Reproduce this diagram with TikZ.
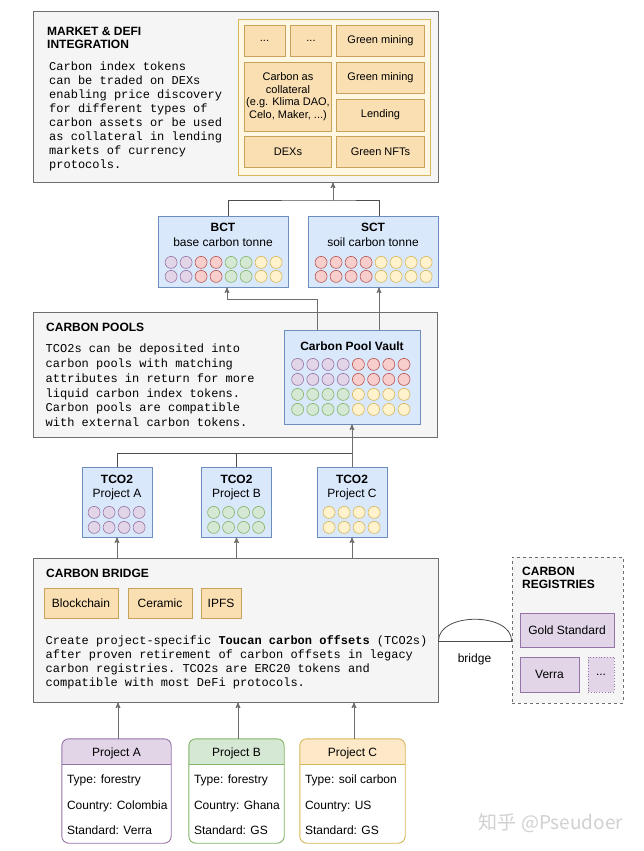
\documentclass[tikz,border=0pt]{standalone}
\usepackage{fontspec}
\setmainfont{Liberation Sans}
\setmonofont{Liberation Mono}
\newfontfamily\zhfont{Noto Sans CJK SC}
\usepackage{tikz}
\usetikzlibrary{arrows, calc, positioning}

\definecolor{grayfill}{HTML}{F5F5F5}
\definecolor{grayline}{HTML}{6E6E6E}
\definecolor{linkgray}{HTML}{4D4D4D}
\definecolor{bufill}{HTML}{DAE8FC}
\definecolor{buline}{HTML}{6C8EBF}
\definecolor{pufill}{HTML}{E1D5E7}
\definecolor{puline}{HTML}{9673A6}
\definecolor{grfill}{HTML}{D5E8D4}
\definecolor{grline}{HTML}{82B366}
\definecolor{yefill}{HTML}{FFF2CC}
\definecolor{yeline}{HTML}{D6B656}
\definecolor{rdfill}{HTML}{F8CECC}
\definecolor{rdline}{HTML}{B85450}
\definecolor{orfill}{HTML}{FADFB3}
\definecolor{orline}{HTML}{C8A15B}
\definecolor{panelfill}{HTML}{FFF7E2}
\definecolor{pcfill}{HTML}{FDE9C8}

\tikzset{
	layer/.style={draw=grayline, fill=grayfill, line width=0.9pt, inner sep=0pt},
	tokbox/.style={draw=buline, fill=bufill, line width=0.8pt, inner sep=0pt},
	tile/.style={draw=orline, fill=orfill, line width=0.8pt, inner sep=0pt, align=center,
		font=\fontsize{11}{12.5}\selectfont},
	btile/.style={tile, font=\fontsize{12}{14}\selectfont},
	regbox/.style={draw=puline, fill=pufill, line width=0.8pt, inner sep=0pt,
		font=\fontsize{12}{14}\selectfont},
	txt/.style={font=\fontsize{12}{14}\selectfont, inner sep=0pt},
	row/.style={txt, text height=9pt, text depth=2.5pt},
	ttl/.style={font=\bfseries\fontsize{12}{13}\selectfont, inner sep=0pt, align=left, anchor=north west},
	mono/.style={font=\ttfamily\fontsize{12}{14}\selectfont, inner sep=0pt, align=left, anchor=north west},
	tok/.style={draw=#1line, fill=#1fill, line width=0.6pt},
	arr/.style={draw=grayline, line width=1pt, -stealth'},
	link/.style={draw=linkgray, line width=1pt},
}

\begin{document}
\begin{tikzpicture}[x=1pt, y=-1pt]
	\fill[white] (0,0) rectangle (644,851);
	\useasboundingbox (0,0) rectangle (644,851);

	% market & defi integration
	\node[layer, minimum width=405, minimum height=171] (market) at (235.5,96.5) {};
	\node[ttl] (market-ttl) at (47,27) {MARKET \& DEFI\\INTEGRATION};
	\node[mono] (market-txt) at (49,62) {Carbon index tokens\\can be traded on DEXs\\enabling price discovery\\for different types of\\carbon assets or be used\\as collateral in lending\\markets of currency\\protocols.};
	\node[draw=yeline, fill=panelfill, line width=0.8pt, inner sep=0pt,
		minimum width=192, minimum height=156] (apps) at (334,97) {};
	\node[tile, minimum width=41, minimum height=31] (dots-a) at (264.5,40.5) {...};
	\node[tile, minimum width=41, minimum height=31] (dots-b) at (311,40.5) {...};
	\node[tile, minimum width=88, minimum height=31] (mining-a) at (380.5,40.5) {Green mining};
	\node[tile, minimum width=87, minimum height=69] (collateral) at (288,96.5) {Carbon as\\collateral\\(e.g. Klima DAO,\\Celo, Maker, ...)};
	\node[tile, minimum width=88, minimum height=31] (mining-b) at (380.5,77.5) {Green mining};
	\node[tile, minimum width=88, minimum height=32] (lending) at (380.5,115) {Lending};
	\node[tile, minimum width=87, minimum height=31] (dexs) at (288,151.5) {DEXs};
	\node[tile, minimum width=88, minimum height=31] (nfts) at (380.5,151.5) {Green NFTs};

	% index tokens
	\node[tokbox, minimum width=130, minimum height=71] (bct) at (223,251.5) {};
	\node[txt, align=center, anchor=north] (bct-lbl) at ($(bct.north)+(0,7)$) {\textbf{BCT}\\[1pt]base carbon tonne};
	\node[tokbox, minimum width=130, minimum height=71] (sct) at (373,251.5) {};
	\node[txt, align=center, anchor=north] (sct-lbl) at ($(sct.north)+(0,7)$) {\textbf{SCT}\\[1pt]soil carbon tonne};
	\foreach \c [count=\i from 0] in {pu,pu,rd,rd,gr,gr,ye,ye}
		\foreach \r in {25,11}
			\draw[tok=\c] ($(bct.south west)+(13.5+15*\i,-\r)$) circle[radius=6pt];
	\foreach \c [count=\i from 0] in {rd,rd,rd,rd,ye,ye,ye,ye}
		\foreach \r in {25,11}
			\draw[tok=\c] ($(sct.south west)+(13.5+15*\i,-\r)$) circle[radius=6pt];

	% carbon pools
	\node[layer, minimum width=404, minimum height=125] (pools) at (235,374.5) {};
	\node[ttl] (pools-ttl) at (46,322.5) {CARBON POOLS};
	\node[mono, font=\ttfamily\fontsize{12}{14.7}\selectfont] (pools-txt) at (45.5,344) {TCO2s can be deposited into\\carbon pools with matching\\attributes in return for more\\liquid carbon index tokens.\\Carbon pools are compatible\\with external carbon tokens.};
	\node[tokbox, minimum width=136, minimum height=94] (vault) at (352,377) {};
	\node[txt, font=\bfseries\fontsize{12}{14}\selectfont, anchor=north] (vault-lbl) at ($(vault.north)+(0,12)$) {Carbon Pool Vault};
	\foreach \c [count=\i from 0] in {pu,pu,pu,pu,rd,rd,rd,rd}
		\foreach \r in {60,45}
			\draw[tok=\c] ($(vault.south west)+(14+15.2*\i,-\r)$) circle[radius=6pt];
	\foreach \c [count=\i from 0] in {gr,gr,gr,gr,ye,ye,ye,ye}
		\foreach \r in {30,15}
			\draw[tok=\c] ($(vault.south west)+(14+15.2*\i,-\r)$) circle[radius=6pt];

	% project tokens
	\foreach \t/\x/\n/\c in {ta/117/A/pu, tb/236.5/B/gr, tc/352/C/ye}{
		\node[tokbox, minimum width=70, minimum height=70] (\t) at (\x,502) {};
		\node[txt, align=center, anchor=north] (\t-lbl) at ($(\t.north)+(0,8.5)$) {\textbf{TCO2}\\Project \n};
		\foreach \i in {0,...,3}
			\foreach \r in {25,10}
				\draw[tok=\c] ($(\t.south west)+(12.5+15*\i,-\r)$) circle[radius=6pt];
	}

	% carbon bridge
	\node[layer, minimum width=405, minimum height=144] (bridge) at (235.5,630) {};
	\node[ttl] (bridge-ttl) at (46,568.7) {CARBON BRIDGE};
	\node[btile, minimum width=74, minimum height=30] (chain) at (81,603) {Blockchain};
	\node[btile, minimum width=64, minimum height=30] (ceramic) at (160,603) {Ceramic};
	\node[btile, minimum width=40, minimum height=30] (ipfs) at (221,603) {IPFS};
	\node[mono] (bridge-txt) at (45.5,635) {Create project-specific \textbf{Toucan carbon offsets} (TCO2s)\\after proven retirement of carbon offsets in legacy\\carbon registries. TCO2s are ERC20 tokens and\\compatible with most DeFi protocols.};

	% carbon registries
	\node[draw=grayline, fill=grayfill, dashed, line width=0.7pt, inner sep=0pt,
		minimum width=111, minimum height=146] (registries) at (567.5,630) {};
	\node[ttl, font=\bfseries\fontsize{12}{13.5}\selectfont] (reg-ttl) at (522,566.5) {CARBON\\REGISTRIES};
	\node[regbox, minimum width=94, minimum height=34] (gold) at (567,630) {Gold Standard};
	\node[regbox, minimum width=59, minimum height=35] (verra) at (549.5,674.5) {Verra};
	\node[regbox, dotted, minimum width=26, minimum height=35] (reg-more) at (601,674.5) {...};

	\coordinate (br-l) at ($(bridge.east)+(0,11)$);
	\coordinate (br-r) at (br-l -| registries.west);
	\draw[link] (br-l) -- (br-r);
	\draw[link, line width=0.8pt] (br-l) .. controls +(0,-29) and +(0,-29) .. (br-r);
	\node[txt] (br-lbl) at (474.5,659) {bridge};

	% projects
	\foreach \p/\x/\w/\f/\d/\h/\ty/\co/\st in {
		pa/116.5/109/pufill/puline/Project A/forestry/Colombia/Verra,
		pb/236.5/95/grfill/grline/Project B/forestry/Ghana/GS,
		pc/352.5/105/pcfill/yeline/Project C/soil carbon/US/GS}{
		\node[inner sep=0pt, minimum width=\w, minimum height=104] (\p) at (\x,791) {};
		\begin{scope}
			\clip[rounded corners=7pt] (\p.south west) rectangle (\p.north east);
			\fill[\f] (\p.north west) rectangle ($(\p.north east)+(0,26)$);
		\end{scope}
		\draw[\d, line width=0.8pt] ($(\p.north west)+(0,26)$) -- ($(\p.north east)+(0,26)$);
		\draw[\d, line width=0.9pt, rounded corners=7pt] (\p.south west) rectangle (\p.north east);
		\node[row] (\p-hd) at ($(\p.north)+(0,14)$) {\h};
		\node[row, anchor=west] (\p-ty) at ($(\p.north west)+(5,41)$) {Type: \ty};
		\node[row, anchor=west] (\p-co) at ($(\p.north west)+(5,67)$) {Country: \co};
		\node[row, anchor=west] (\p-st) at ($(\p.north west)+(5,92)$) {Standard: \st};
	}

	% connectors
	\coordinate (defi-in) at (333,200);
	\draw[link] ([xshift=5pt]bct.north) |- (defi-in) -| ([xshift=6pt]sct.north);
	\draw[arr] (defi-in) -- (defi-in |- market.south);

	\coordinate (pool-turn) at (317,299);
	\draw[arr] (pool-turn |- vault.north) -- (pool-turn) -| ([xshift=4pt]bct.south);
	\draw[arr] ([xshift=6pt]sct.south |- vault.north) -- ([xshift=6pt]sct.south);

	\coordinate (tco-bus) at (0,453);
	\draw[link] (ta.north) |- (tco-bus -| tc.north);
	\draw[link] (tb.north) -- (tb.north |- tco-bus);
	\draw[arr] (tc.north) -- (vault.south);

	\foreach \t in {ta,tb,tc}
		\draw[arr] (\t.south |- bridge.north) -- (\t.south);
	\foreach \p in {pa,pb,pc}
		\draw[arr] ([xshift=1.5pt]\p.north) -- ([xshift=1.5pt]\p.north |- bridge.south);

	\node[text=black!18, font=\zhfont\fontsize{19}{22}\selectfont, inner sep=0pt] (mark) at (551,823) {知乎 @Pseudoer};
\end{tikzpicture}
\end{document}
